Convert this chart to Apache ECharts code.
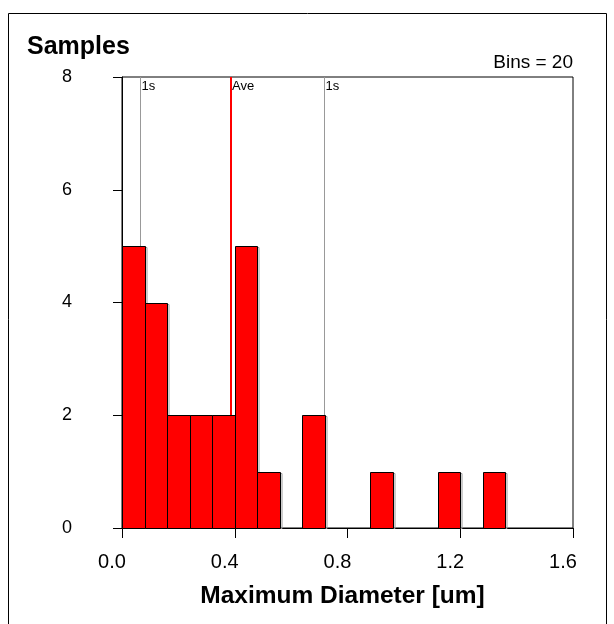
<!DOCTYPE html>
<html>
<head>
<meta charset="utf-8">
<script src="https://cdn.jsdelivr.net/npm/echarts@6/dist/echarts.min.js"></script>
<style>html,body{margin:0;padding:0;background:#fff}#c{width:614px;height:624px}</style>
</head>
<body>
<div id="c"></div>
<script>
// Data
const binStarts = [0.00,0.08,0.16,0.24,0.32,0.40,0.48,0.56,0.64,0.72,0.80,0.88,0.96,1.04,1.12,1.20,1.28,1.36,1.44,1.52];
const binWidth = 0.08;
const counts =    [5,4,2,2,2,5,1,0,2,0,0,1,0,0,1,0,1,0,0,0];
const refNames  = ['1s','Ave','1s'];
const refValues = [0.063, 0.388, 0.716];
const refColors = ['#999999','#ff0000','#999999'];
const refWidths = [1, 2, 1];
const xTicks = ['0.0','0.4','0.8','1.2','1.6'];
const yTicks = ['0','2','4','6','8'];

const font = '"Liberation Sans", Arial, sans-serif';
const chart = echarts.init(document.getElementById('c'));

const barData = binStarts.map((s,i)=>[s, s+binWidth, counts[i]]).filter(d=>d[2]>0);

chart.setOption({
  animation:false,
  textStyle:{fontFamily:font},
  grid:{left:122, right:41, top:77, bottom:96, show:true, borderColor:'#000', borderWidth:1, backgroundColor:'transparent'},
  xAxis:{
    type:'value', min:0, max:1.6, interval:0.4,
    axisLine:{show:true, onZero:false, lineStyle:{color:'#000', width:1}},
    axisTick:{show:true, inside:false, length:10, lineStyle:{color:'#000'}},
    splitLine:{show:false},
    axisLabel:{color:'#000', fontSize:20, margin:24, fontFamily:font, padding:[0,20,0,0],
      formatter:(v)=>xTicks[Math.round(v/0.4)]},
    name:'Maximum Diameter [um]', nameLocation:'middle', nameGap:56,
    nameTextStyle:{color:'#000', fontSize:24.5, fontWeight:'bold', fontFamily:font, padding:[0,10,0,0]}
  },
  yAxis:{
    type:'value', min:0, max:8, interval:2,
    axisLine:{show:true, lineStyle:{color:'#000', width:1}},
    axisTick:{show:true, inside:false, length:9, lineStyle:{color:'#000'}},
    splitLine:{show:false},
    axisLabel:{color:'#000', fontSize:18, margin:50, fontFamily:font,
      formatter:(v)=>yTicks[Math.round(v/2)]}
  },
  graphic:[
    {type:'rect', shape:{x:8.5,y:13.5,width:598,height:620}, style:{fill:'none', stroke:'#000', lineWidth:1}, silent:true},
    {type:'text', left:27, top:35, style:{text:'Samples', font:'bold 25px '+font, fill:'#000'}},
    {type:'text', right:41, top:53, style:{text:'Bins = 20', font:'19px '+font, fill:'#000'}}
  ],
  series:[
    {
      type:'custom',
      data: refValues.map(v=>[v]),
      encode:{x:0},
      renderItem:(params, api)=>{
        const i = params.dataIndex;
        const pb = api.coord([api.value(0), 0]);
        const pt = api.coord([api.value(0), 8]);
        const off = refWidths[i]===2 ? 0 : 0.5;
        const x = Math.round(pb[0]) + off;
        return {type:'group', children:[
          {type:'line', shape:{x1:x, y1:pb[1], x2:x, y2:pt[1]}, style:{stroke:refColors[i], lineWidth:refWidths[i]}},
          {type:'text', x:x+1, y:pt[1]+3, style:{text:refNames[i], font:'13px '+font, fill:'#000', textAlign:'left', textVerticalAlign:'top'}}
        ]};
      },
      z:1
    },
    {
      type:'custom',
      data: barData,
      encode:{x:[0,1], y:2},
      renderItem:(params, api)=>{
        const p0 = api.coord([api.value(0), 0]);
        const p1 = api.coord([api.value(1), api.value(2)]);
        const x = Math.round(p0[0])+0.5, w = Math.round(p1[0])-Math.round(p0[0]);
        const y = Math.round(p1[1])+0.5, h = Math.round(p0[1])-Math.round(p1[1]);
        return {type:'group', children:[
          {type:'rect', shape:{x:x+1.5, y:y+1, width:w, height:h-1}, style:{fill:'none', stroke:'#999', lineWidth:1}},
          {type:'rect', shape:{x:x, y:y, width:w, height:h}, style:{fill:'#ff0000', stroke:'#000', lineWidth:1}}
        ]};
      },
      z:2
    }
  ]
});
</script>
</body>
</html>
